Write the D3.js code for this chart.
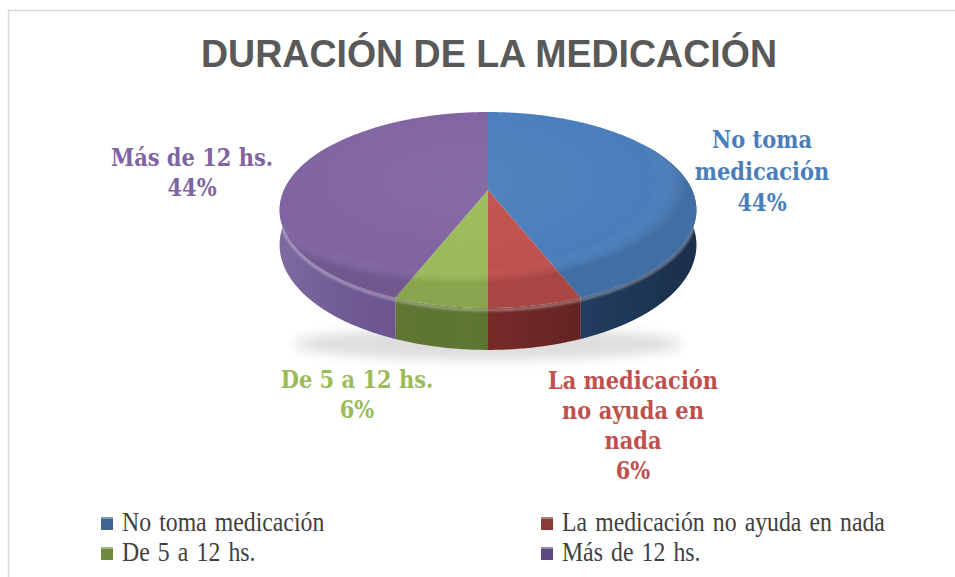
<!DOCTYPE html>
<html>
<head>
<meta charset="utf-8">
<script src="https://cdn.jsdelivr.net/npm/d3@7"></script>
<style>
  body { margin: 0; background: #fff; }
</style>
</head>
<body>
<svg id="chart" width="955" height="577"></svg>
<script>
// data
var categories = ["No toma medicación", "La medicación no ayuda en nada", "De 5 a 12 hs.", "Más de 12 hs."];
var values = [44, 6, 6, 44];
var labelNames = [["No toma", "medicación"], ["La medicación", "no ayuda en", "nada"], ["De 5 a 12 hs."], ["Más de 12 hs."]];
var topColors = ["#4a7ebb", "#c0504d", "#9bbb59", "#8064a2"];
var sideColors = ["#2a4c77", "#7b2c2a", "#5f7733", "#6c5493"];
var legendColors = ["#3e6493", "#8b3b39", "#6f8b3f", "#5b4983"];

(function () {
    "use strict";

    var svg = d3.select("#chart");
    var defs = svg.append("defs");

    // frame
    svg.append("rect")
        .attr("x", 8.5).attr("y", 10.5)
        .attr("width", 1000).attr("height", 1000)
        .attr("fill", "#fff")
        .attr("stroke", "#d9d9d9").attr("stroke-width", 1.5);

    // title
    svg.append("text")
        .attr("x", 489).attr("y", 67)
        .attr("text-anchor", "middle")
        .attr("textLength", 576).attr("lengthAdjust", "spacingAndGlyphs")
        .style("font-family", "'Liberation Sans', Arial, sans-serif")
        .style("font-weight", "bold")
        .style("font-size", "39px")
        .attr("fill", "#595959")
        .text("DURACIÓN DE LA MEDICACIÓN");

    // perspective disc projection
    var cx = 488, cy = 190, A = 93.9, B = 204, k = 0.204, H = 33.4;
    var proj = function (theta, r, drop) {
        var X = r * Math.sin(theta), Z = r * Math.cos(theta);
        var s = 1 / (1 + k * Z);
        return [cx + B * X * s, cy - A * Z * s + drop * s];
    };
    var arcPoints = function (a0, a1, drop) {
        var n = Math.max(2, Math.ceil(Math.abs(a1 - a0) / 0.01));
        return d3.range(n + 1).map(function (i) {
            return proj(a0 + (a1 - a0) * i / n, 1, drop);
        });
    };
    var line = d3.line();

    var pie = d3.pie().sort(null).startAngle(0).endAngle(2 * Math.PI);
    var arcs = pie(values);
    var total = d3.sum(values);

    // soft shadow under the pie
    var blur = defs.append("filter").attr("id", "shadowBlur")
        .attr("x", "-20%").attr("y", "-100%").attr("width", "140%").attr("height", "300%");
    blur.append("feGaussianBlur").attr("stdDeviation", 6);
    svg.append("ellipse")
        .attr("cx", cx).attr("cy", 344)
        .attr("rx", 195).attr("ry", 16)
        .attr("fill", "#000").attr("opacity", 0.13)
        .attr("filter", "url(#shadowBlur)");

    var lo = Math.PI / 3, hi = 5 * Math.PI / 3;
    var pieG = svg.append("g");

    // side walls
    arcs.forEach(function (d, i) {
        var a0 = Math.max(d.startAngle, lo), a1 = Math.min(d.endAngle, hi);
        if (a1 <= a0) { return; }
        var pts = arcPoints(a0, a1, 0).concat(arcPoints(a1, a0, H));
        pieG.append("path")
            .attr("d", line(pts) + "Z")
            .attr("fill", sideColors[i]);
    });

    // lighting across the walls
    var sideGrad = defs.append("linearGradient").attr("id", "sideGrad")
        .attr("gradientUnits", "userSpaceOnUse")
        .attr("x1", cx - B).attr("x2", cx + B).attr("y1", 0).attr("y2", 0);
    sideGrad.append("stop").attr("offset", 0).attr("stop-color", "#fff").attr("stop-opacity", 0.12);
    sideGrad.append("stop").attr("offset", 0.45).attr("stop-color", "#000").attr("stop-opacity", 0.0);
    sideGrad.append("stop").attr("offset", 1).attr("stop-color", "#000").attr("stop-opacity", 0.38);
    var wall = arcPoints(lo, hi, 0).concat(arcPoints(hi, lo, H));
    pieG.append("path").attr("d", line(wall) + "Z").attr("fill", "url(#sideGrad)");

    // bevel highlight along the front rim
    var rimBlur = defs.append("filter").attr("id", "rimBlur");
    rimBlur.append("feGaussianBlur").attr("stdDeviation", 1.2);
    pieG.append("path")
        .attr("d", line(arcPoints(Math.PI / 2, 3 * Math.PI / 2, 1.5)))
        .attr("fill", "none")
        .attr("stroke", "#fff").attr("stroke-opacity", 0.35).attr("stroke-width", 3)
        .attr("filter", "url(#rimBlur)");

    // top faces
    arcs.forEach(function (d, i) {
        var pts = [proj(0, 0, 0)].concat(arcPoints(d.startAngle, d.endAngle, 0));
        pieG.append("path")
            .attr("d", line(pts) + "Z")
            .attr("fill", topColors[i]);
    });

    // slight sheen on the top
    var topGrad = defs.append("radialGradient").attr("id", "topGrad")
        .attr("gradientUnits", "userSpaceOnUse")
        .attr("cx", cx - 30).attr("cy", cy - 10).attr("r", 230)
        .attr("gradientTransform", "translate(0," + (cy - 10) * 0.55 + ") scale(1,0.45)");
    topGrad.append("stop").attr("offset", 0).attr("stop-color", "#fff").attr("stop-opacity", 0.05);
    topGrad.append("stop").attr("offset", 0.85).attr("stop-color", "#fff").attr("stop-opacity", 0);
    topGrad.append("stop").attr("offset", 1).attr("stop-color", "#000").attr("stop-opacity", 0.12);
    pieG.append("path")
        .attr("d", line(arcPoints(0, 2 * Math.PI, 0)) + "Z")
        .attr("fill", "url(#topGrad)");

    // data labels
    var labelAnchors = [[762, 148], [633, 389], [357, 388], [192, 166]];
    arcs.forEach(function (d, i) {
        var lines = labelNames[i].concat([Math.round(d.value / total * 100) + "%"]);
        var gap = i === 0 ? 31.5 : 30;
        lines.forEach(function (s, j) {
            svg.append("text")
                .attr("transform", "translate(" + labelAnchors[i][0] + "," + (labelAnchors[i][1] + j * gap) + ") scale(1,1.12)")
                .attr("text-anchor", "middle")
                .style("font-family", "'DejaVu Serif', serif")
                .style("font-weight", "bold")
                .style("font-size", "21px")
                .attr("fill", topColors[i])
                .text(s);
        });
    });

    // legend
    var legendCols = [101, 541];
    var legendRows = [517, 547];
    var legendG = svg.append("g");
    categories.forEach(function (c, i) {
        var x = legendCols[i % 2], y = legendRows[Math.floor(i / 2)];
        var g = legendG.append("g");
        g.append("rect")
            .attr("x", x).attr("y", y)
            .attr("width", 12).attr("height", 13)
            .attr("fill", legendColors[i]);
        g.append("rect")
            .attr("x", x).attr("y", y)
            .attr("width", 12).attr("height", 2)
            .attr("fill", "#fff").attr("opacity", 0.35);
        g.append("text")
            .attr("transform", "translate(" + (x + 21) + "," + (y + 14) + ") scale(0.88,1)")
            .style("font-family", "'Liberation Serif', 'Times New Roman', serif")
            .style("font-size", "27px")
            .style("word-spacing", "2.5px")
            .attr("fill", "#404040")
            .text(c);
    });
})();
</script>
</body>
</html>
